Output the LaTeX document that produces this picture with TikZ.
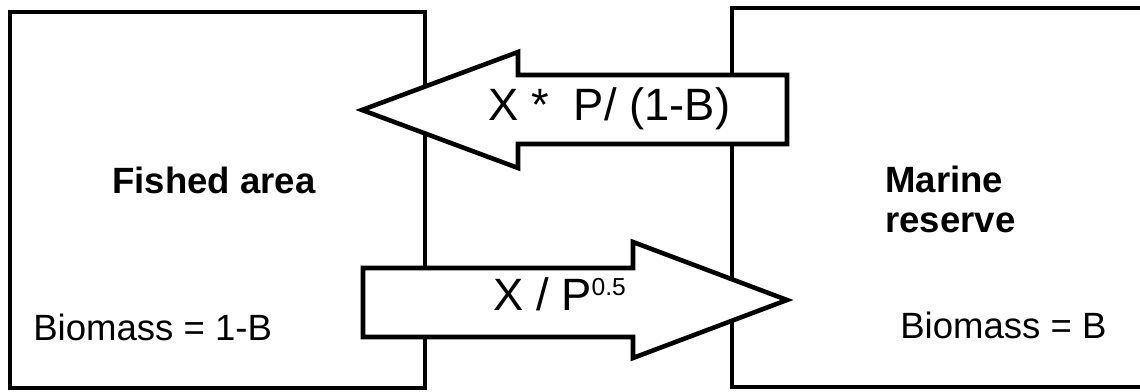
\documentclass[tikz,border=0pt]{standalone}
\usepackage{fontspec}
\setmainfont{Liberation Sans}
\usepackage{tikz}

\begin{document}
\begin{tikzpicture}[x=0.02cm,y=-0.02cm,
    zone/.style={draw=black, line width=2.6pt, line join=miter},
    flow/.style={draw=black, fill=white, line width=2.6pt, line join=miter},
    boxtext/.style={inner sep=0pt, font=\fontsize{20.8pt}{22.7pt}\selectfont},
    flowtext/.style={inner sep=0pt, font=\fontsize{25.8pt}{28pt}\selectfont}]
  \useasboundingbox (0,0) rectangle (1140,392);
  % the two areas
  \draw[zone] (10,12) rectangle (425,388);
  \draw[zone] (1150,8) -- (732,8) -- (732,387) -- (1150,387);
  % flows between them
  \draw[flow] (362,110) -- (518,52) -- (518,75) -- (787,75) -- (787,144)
    -- (518,144) -- (518,168) -- cycle;
  \draw[flow] (363,268) -- (633,268) -- (633,242) -- (787,300) -- (633,358)
    -- (633,337) -- (363,337) -- cycle;
  % labels
  \node[boxtext, anchor=base west] (fished) at (112,193) {\bfseries Fished area};
  \node[boxtext, anchor=base west] (fishedbio) at (33,340) {Biomass = 1-B};
  \node[boxtext, anchor=north west, align=left] (reserve) at (885,166)
    {\bfseries Marine\\\bfseries reserve};
  \node[boxtext, anchor=base west] (reservebio) at (900,338) {Biomass = B};
  \node[flowtext, anchor=base west] (toout) at (488,120) {X *\ \ P/ (1-B)};
  \node[flowtext, anchor=base west] (toin) at (493,310)
    {X / P\raisebox{0.33em}{\fontsize{14pt}{14pt}\selectfont 0.5}};
\end{tikzpicture}
\end{document}
